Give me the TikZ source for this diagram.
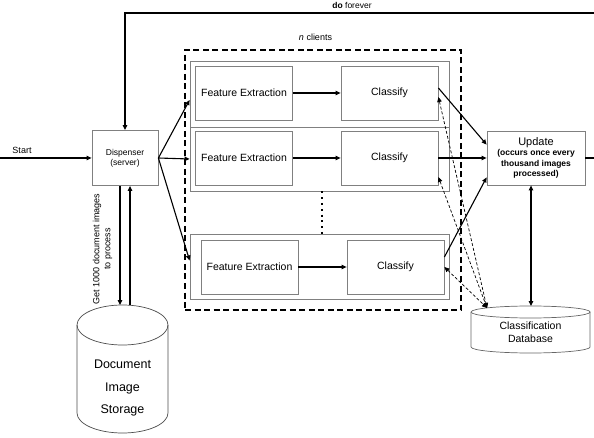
\documentclass[tikz,border=0pt]{standalone}
\usepackage{fontspec}
\setmainfont{Liberation Sans}
\usetikzlibrary{arrows.meta}

\begin{document}
\begin{tikzpicture}[x=1pt,y=-1pt,
    >={Triangle[length=5pt,width=4.5pt]},
    box/.style={draw=black!50, line width=0.8pt, rectangle, inner sep=0pt},
    stage/.style={box, minimum width=97pt, minimum height=54pt, font=\fontsize{10.5}{12}\selectfont},
    group/.style={box, minimum width=259pt},
    flow/.style={->, line width=1.1pt},
    lookup/.style={<->, line width=0.7pt, dash pattern=on 3pt off 2pt},
    cyl/.style={draw=black!70, line width=0.7pt},
    small/.style={font=\fontsize{9}{11}\selectfont, inner sep=0pt}]
      \useasboundingbox (0,0) rectangle (594,438);

      \coordinate (loopR) at (594,13);
      \coordinate (loopL) at (125,13);
      \coordinate (exitR) at (594,158);
      \coordinate (startL) at (0,158);
      \coordinate (stIn) at (120,305);
      \coordinate (stOut) at (130,305);
      \coordinate (dbTop) at (531,306);
      \coordinate (dbIn) at (487,308);

      % server and clients
      \node[box, minimum width=66pt, minimum height=55pt, align=center,
        font=\fontsize{8.5}{10}\selectfont] (disp) at (125,158) {Dispenser\\(server)};
      \node[draw, dashed, line width=1.1pt, dash pattern=on 6pt off 3.5pt,
        minimum width=276pt, minimum height=260pt] (clients) at (323,180) {};
      \node[small] at (315.5,37) {\textit{n} clients};

      \node[group, minimum height=66pt] (grp1) at (319.5,94) {};
      \node[group, minimum height=64pt] (grp2) at (319.5,159) {};
      \node[group, minimum height=65pt] (grp3) at (319.5,266.5) {};

      \node[stage] (fe1) at (244,93) {Feature Extraction};
      \node[stage] (cl1) at (389.5,93) {Classify};
      \node[stage] (fe2) at (244,158) {Feature Extraction};
      \node[stage] (cl2) at (389.5,158) {Classify};
      \node[stage] (fe3) at (249.5,267) {Feature Extraction};
      \node[stage] (cl3) at (395.5,267) {Classify};

      \node[box, minimum width=98pt, minimum height=54pt, align=center,
        font=\fontsize{8.5}{10.5}\selectfont\bfseries] (upd) at (536,158)
        {{\fontsize{11}{12}\selectfont\mdseries Update}\\(occurs once every\\thousand images\\processed)};

      % storage cylinders
      \draw[cyl] (77,325) -- (77,413) arc[start angle=180, end angle=360, x radius=45.5pt, y radius=20pt] -- (168,325);
      \draw[cyl] (122.5,325) ellipse[x radius=45.5pt, y radius=20pt];
      \node[align=center, font=\fontsize{12.5}{15}\selectfont] (store) at (122.5,388)
        {Document\\[7.5pt]Image\\[7.5pt]Storage};

      \draw[cyl, draw=black!60] (471,312) -- (471,347) arc[start angle=180, end angle=360, x radius=59.5pt, y radius=6pt] -- (590,312);
      \draw[cyl, draw=black!60] (530.5,312) ellipse[x radius=59.5pt, y radius=6pt];
      \node[align=center, font=\fontsize{10.5}{13}\selectfont] (db) at (530.5,332.5) {Classification\\Database};

      % main loop
      \draw[flow] (loopR) -- (loopL) -- (disp.north);
      \node[small, font=\fontsize{8.5}{10}\selectfont] at (352,5) {\textbf{do} forever};
      \draw[flow] (startL) -- (disp.west);
      \node[small] at (22,150) {Start};
      \draw[line width=1.1pt] (upd.east) -- (exitR);

      \draw[flow] (disp.east) -- ([yshift=-6pt]grp1.west);
      \draw[flow] (disp.east) -- (grp2.west);
      \draw[flow] (disp.east) -- ([yshift=6pt]grp3.west);

      \draw[flow] (fe1) -- (cl1);
      \draw[flow] (fe2) -- (cl2);
      \draw[flow] (fe3) -- (cl3);
      \draw[line width=2pt, dash pattern=on 2pt off 3.8pt] ([xshift=2.5pt]grp2.south) -- ([xshift=2.5pt]grp3.north);

      \draw[flow] ([yshift=5pt]cl1.east) -- ([yshift=-14pt]upd.north west);
      \draw[flow] (cl2.east) -- (upd.west);
      \draw[flow] ([yshift=10pt]cl3.east) -- ([yshift=8pt]upd.south west);

      % database lookups
      \draw[lookup] ([yshift=-4pt]cl1.east) -- (dbIn);
      \draw[lookup] ([yshift=-19pt]cl2.east) -- (dbIn);
      \draw[lookup] (cl3.east) -- (dbIn);
      % \draw[lookup] (upd.south) -- (dbTop);
      \draw[flow, <->] ([xshift=-5pt]upd.south) -- (dbTop);

      % images from storage
      \draw[flow] ([xshift=-5pt]disp.south) -- (stIn);
      \draw[flow] (stOut) -- ([xshift=5pt]disp.south);
      \node[small, rotate=90, align=center] at (102.5,249) {Get 1000 document images\\to process};
    \end{tikzpicture}
\end{document}
